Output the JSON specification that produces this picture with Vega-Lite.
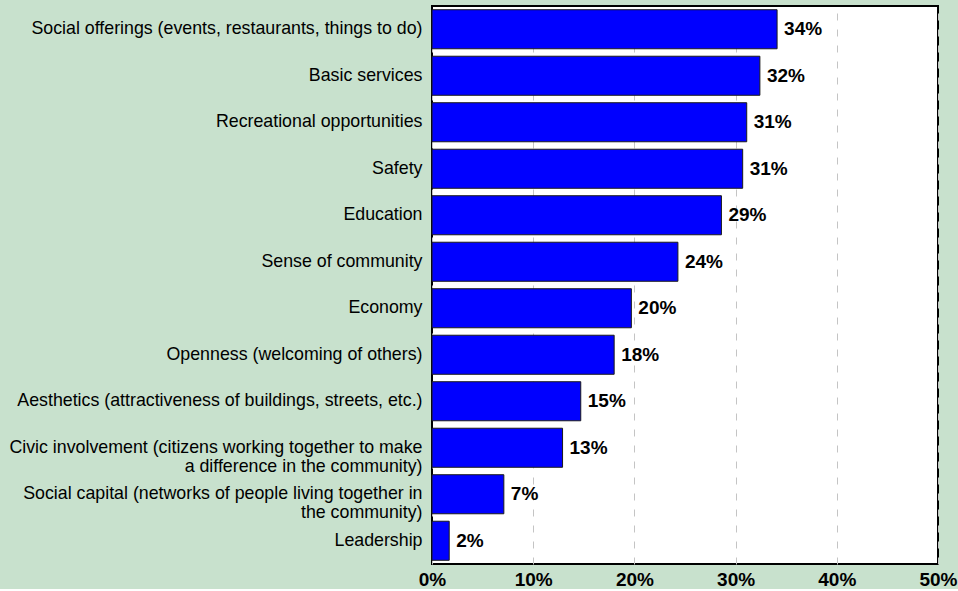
{
  "$schema": "https://vega.github.io/schema/vega-lite/v6.json",
  "width": 506,
  "height": 558,
  "padding": {"left": 0, "top": 6, "right": 0, "bottom": 0},
  "background": "#c8e1cd",
  "config": {
    "view": {"fill": "white", "stroke": "black", "strokeWidth": 2},
    "font": "Liberation Sans"
  },
  "data": {
    "values": [
      {"item": "Social offerings (events, restaurants, things to do)", "pct": 0.341},
      {"item": "Basic services", "pct": 0.324},
      {"item": "Recreational opportunities", "pct": 0.311},
      {"item": "Safety", "pct": 0.307},
      {"item": "Education", "pct": 0.286},
      {"item": "Sense of community", "pct": 0.243},
      {"item": "Economy", "pct": 0.197},
      {"item": "Openness (welcoming of others)", "pct": 0.18},
      {"item": "Aesthetics (attractiveness of buildings, streets, etc.)", "pct": 0.147},
      {"item": "Civic involvement (citizens working together to make\na difference in the community)", "pct": 0.129},
      {"item": "Social capital (networks of people living together in\nthe community)", "pct": 0.071},
      {"item": "Leadership", "pct": 0.017}
    ]
  },
  "encoding": {
    "y": {
      "field": "item",
      "type": "nominal",
      "sort": null,
      "scale": {"paddingInner": 0.16, "paddingOuter": 0.08},
      "axis": {
        "title": null,
        "ticks": false,
        "domain": false,
        "labelFontSize": 17.8,
        "labelColor": "black",
        "labelPadding": 10,
        "labelLimit": 0,
        "labelLineHeight": 19,
        "labelExpr": "split(datum.label, '\\n')",
        "minExtent": 432,
        "maxExtent": 432
      }
    },
    "x": {
      "field": "pct",
      "type": "quantitative",
      "scale": {"domain": [0, 0.5], "nice": false},
      "axis": {
        "title": null,
        "format": ".0%",
        "values": [0, 0.1, 0.2, 0.3, 0.4, 0.5],
        "ticks": false,
        "domain": false,
        "labelFontSize": 19,
        "labelFontWeight": "bold",
        "labelColor": "black",
        "labelPadding": 6,
        "labelFlush": false,
        "grid": true,
        "gridColor": "#c4c4c4",
        "gridDash": [7, 9],
        "gridWidth": 1
      }
    }
  },
  "layer": [
    {"mark": {"type": "bar", "fill": "#0000ff", "stroke": "#1a1a1a", "strokeWidth": 1}},
    {
      "mark": {"type": "text", "align": "left", "baseline": "middle", "dx": 7, "fontWeight": "bold", "fontSize": 19, "color": "black"},
      "encoding": {"text": {"field": "pct", "format": ".0%"}}
    }
  ]
}
